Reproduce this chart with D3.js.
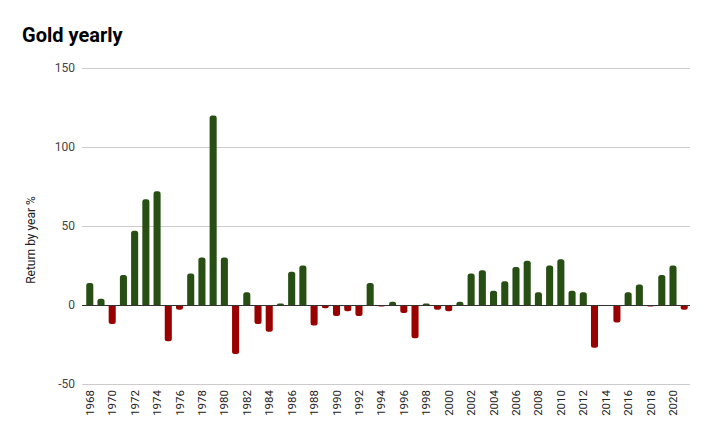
<!DOCTYPE html>
<html><head><meta charset="utf-8">
<script src="https://cdn.jsdelivr.net/npm/d3@7"></script>
<style>body{margin:0;background:#fff}svg{display:block;font-family:Roboto,Arial,sans-serif}</style>
</head><body>
<svg id="c" width="711" height="440"></svg>
<script>
const years = d3.range(1968, 2022);
const returns = [14,4,-12,19,47,67,72,-23,-3,20,30,120,30,-31,8,-12,-17,1,21,25,
  -13,-2,-7,-4,-7,14,-1,2,-5,-21,1,-3,-4,2,20,22,9,15,24,28,8,25,29,9,8,-27,0,-11,8,13,-1,19,25,-3];
const yTicks = [-50,0,50,100,150];
const title = "Gold yearly";
const yLabel = "Return by year %";

const svg = d3.select("#c");
const mLeft = 84, mRight = 690, mTop = 68, mBottom = 384;
const x = d3.scaleBand().domain(years).range([mLeft, mRight]).paddingInner(0.37).paddingOuter(0.2);
const y = d3.scaleLinear().domain([-50,150]).range([mBottom, mTop]);

svg.append("text").attr("x",22).attr("y",42).attr("font-size",20).attr("font-weight","bold").attr("fill","#000").text(title);

svg.append("g").selectAll("line").data(yTicks.filter(d=>d!==0)).join("line")
  .attr("x1",82).attr("x2",mRight).attr("y1",d=>y(d)+0.5).attr("y2",d=>y(d)+0.5)
  .attr("stroke","#cccccc").attr("stroke-width",1);
svg.append("g").selectAll("text").data(yTicks).join("text")
  .attr("x",75).attr("y",d=>y(d)+4).attr("text-anchor","end").attr("font-size",12).attr("fill","#444").text(d=>d);

svg.append("text").attr("transform",`translate(35,240) rotate(-90)`)
  .attr("text-anchor","middle").attr("font-size",12).attr("fill","#222").text(yLabel);

const data = years.map((yr,i)=>({yr, v:returns[i]}));
const bw = x.bandwidth(), r = 2.5;
function barPath(d){
  const x0 = x(d.yr), x1 = x0+bw, y0 = y(0), y1 = y(d.v);
  if (d.v === 0) return "";
  const s = d.v > 0 ? 1 : -1;
  const rr = Math.min(r, Math.abs(y1-y0));
  return `M${x0},${y0} L${x0},${y1+s*rr} Q${x0},${y1} ${x0+rr},${y1} L${x1-rr},${y1} Q${x1},${y1} ${x1},${y1+s*rr} L${x1},${y0} Z`;
}
svg.append("g").selectAll("path").data(data).join("path")
  .attr("d",barPath).attr("fill",d=>d.v>=0?"#274e13":"#990000");

svg.append("line").attr("x1",82).attr("x2",mRight).attr("y1",y(0)+0.5).attr("y2",y(0)+0.5)
  .attr("stroke","#333").attr("stroke-width",1.2);

svg.append("g").selectAll("text").data(years.filter(d=>d%2===0)).join("text")
  .attr("transform",d=>`translate(${x(d)+bw/2+4},390) rotate(-90)`)
  .attr("text-anchor","end").attr("font-size",11.5).attr("fill","#222").text(d=>d);
</script>
</body></html>
